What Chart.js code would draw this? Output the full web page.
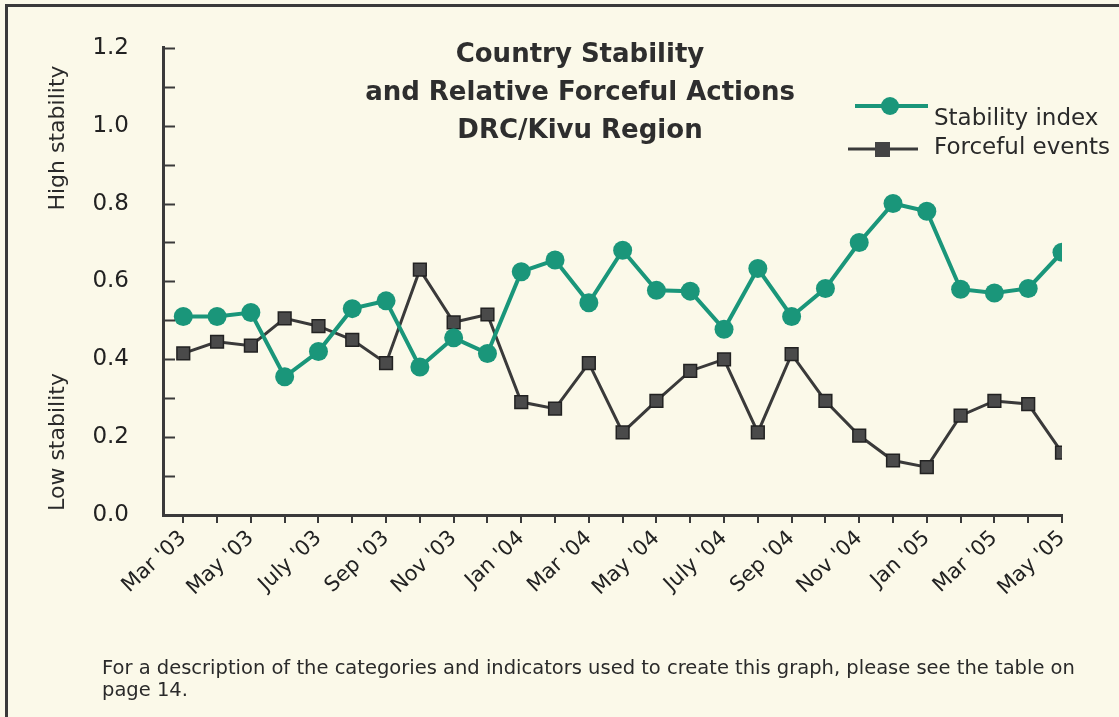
<!DOCTYPE html>
<html>
<head>
<meta charset="utf-8">
<script src="https://cdn.jsdelivr.net/npm/chart.js@4"></script>
<style>
  html, body { margin: 0; padding: 0; background: #fbf9e9; }
  #wrap { position: relative; width: 1119px; height: 717px; overflow: hidden; }
  #frame { position: absolute; left: 5px; top: 4px; width: 1200px; height: 800px;
           border-left: 3px solid #3a3a3a; border-top: 3px solid #3a3a3a; }
  #note { position: absolute; left: 102px; top: 657px; font: 19.5px "DejaVu Sans", sans-serif;
          color: #2a2a2a; line-height: 22px; white-space: nowrap; }
  canvas { position: absolute; left: 0; top: 0; }
</style>
</head>
<body>
<div id="wrap">
  <div id="frame"></div>
  <canvas id="chart" width="1119" height="717"></canvas>
  <div id="note">For a description of the categories and indicators used to create this graph, please see the table on<br>page 14.</div>
</div>
<script>
const months = ["Mar '03", "Apr '03", "May '03", "June '03", "July '03", "Aug '03", "Sep '03", "Oct '03", "Nov '03", "Dec '03",
  "Jan '04", "Feb '04", "Mar '04", "Apr '04", "May '04", "June '04", "July '04", "Aug '04", "Sep '04", "Oct '04", "Nov '04", "Dec '04",
  "Jan '05", "Feb '05", "Mar '05", "Apr '05", "May '05"];

const stabilityIndex = [0.51, 0.51, 0.52, 0.355, 0.42, 0.53, 0.55, 0.38, 0.455, 0.415,
  0.625, 0.655, 0.545, 0.68, 0.577, 0.575, 0.477, 0.633, 0.51, 0.582, 0.70, 0.80,
  0.78, 0.58, 0.57, 0.582, 0.675];

const forcefulEvents = [0.415, 0.445, 0.435, 0.505, 0.485, 0.45, 0.39, 0.63, 0.495, 0.515,
  0.29, 0.273, 0.39, 0.212, 0.293, 0.37, 0.40, 0.212, 0.413, 0.293, 0.204, 0.14,
  0.123, 0.255, 0.293, 0.285, 0.16];

const titleLines = ['Country Stability', 'and Relative Forceful Actions', 'DRC/Kivu Region'];
const seriesNames = ['Stability index', 'Forceful events'];

const GREEN = '#1a967a';
const DARK = '#3a3a3a';
const FONT = '"DejaVu Sans", sans-serif';

// inward y ticks, title, legend and side labels
const decorations = {
  id: 'decorations',
  afterDraw(chart) {
    const ctx = chart.ctx;
    const y = chart.scales.y;
    const area = chart.chartArea;
    ctx.save();

    // tick marks pointing into the plot
    ctx.strokeStyle = DARK;
    ctx.lineWidth = 2;
    y.ticks.forEach(t => {
      const py = Math.round(y.getPixelForValue(t.value)) + 0.5;
      ctx.beginPath();
      ctx.moveTo(area.left, py);
      ctx.lineTo(area.left + 12, py);
      ctx.stroke();
    });

    // title
    ctx.fillStyle = '#2e2e2e';
    ctx.font = 'bold 26px ' + FONT;
    ctx.textAlign = 'center';
    ctx.textBaseline = 'middle';
    titleLines.forEach((line, i) => ctx.fillText(line, 580, 55 + i * 38));

    // side labels
    ctx.font = '22px ' + FONT;
    ctx.fillStyle = '#2a2a2a';
    [['High stability', 138], ['Low stability', 442]].forEach(([txt, cy]) => {
      ctx.save();
      ctx.translate(58, cy);
      ctx.rotate(-Math.PI / 2);
      ctx.fillText(txt, 0, 0);
      ctx.restore();
    });

    // legend
    ctx.textAlign = 'left';
    ctx.font = '23px ' + FONT;
    ctx.strokeStyle = GREEN;
    ctx.lineWidth = 4;
    ctx.beginPath();
    ctx.moveTo(855, 106);
    ctx.lineTo(928, 106);
    ctx.stroke();
    ctx.fillStyle = GREEN;
    ctx.beginPath();
    ctx.arc(890, 106, 9, 0, Math.PI * 2);
    ctx.fill();
    ctx.fillStyle = '#2a2a2a';
    ctx.fillText(seriesNames[0], 934, 119);

    ctx.strokeStyle = DARK;
    ctx.lineWidth = 3;
    ctx.beginPath();
    ctx.moveTo(848, 149);
    ctx.lineTo(918, 149);
    ctx.stroke();
    ctx.fillStyle = '#444';
    ctx.fillRect(875, 142, 15, 15);
    ctx.fillStyle = '#2a2a2a';
    ctx.fillText(seriesNames[1], 934, 148);

    ctx.restore();
  }
};

new Chart(document.getElementById('chart'), {
  type: 'line',
  data: {
    datasets: [
      {
        label: seriesNames[0],
        data: stabilityIndex.map((v, i) => ({ x: i, y: v })),
        borderColor: GREEN,
        backgroundColor: GREEN,
        borderWidth: 4,
        pointRadius: 9.5,
        pointStyle: 'circle',
        pointBorderWidth: 0,
        tension: 0,
      },
      {
        label: seriesNames[1],
        data: forcefulEvents.map((v, i) => ({ x: i, y: v })),
        borderColor: DARK,
        backgroundColor: '#4a4a4a',
        borderWidth: 3,
        pointRadius: 9,
        pointStyle: 'rect',
        pointBorderColor: '#222',
        pointBorderWidth: 1.5,
        tension: 0,
      },
    ],
  },
  options: {
    responsive: false,
    animation: false,
    layout: { padding: { left: 0, top: 43, right: 57, bottom: 0 } },
    scales: {
      x: {
        type: 'linear',
        min: -0.6,
        max: 26,
        afterBuildTicks: (scale) => { scale.ticks = months.map((m, i) => ({ value: i })); },
        afterFit: (scale) => { scale.height = 202; },
        ticks: {
          autoSkip: false,
          minRotation: 43,
          maxRotation: 43,
          padding: 3,
          color: '#222',
          font: { family: FONT, size: 21 },
          callback: (value) => (value % 2 === 0 ? months[value] : ''),
        },
        grid: { drawOnChartArea: false, drawTicks: true, tickLength: 8, color: DARK, lineWidth: 2 },
        border: { display: true, color: DARK, width: 3 },
      },
      y: {
        min: 0,
        max: 1.2,
        afterFit: (scale) => { scale.width = 163; },
        ticks: {
          stepSize: 0.1,
          padding: 34,
          color: '#222',
          font: { family: FONT, size: 23 },
          callback: (value) => (Math.round(value * 10) % 2 === 0 ? value.toFixed(1) : ''),
        },
        grid: { drawOnChartArea: false, drawTicks: false },
        border: { display: true, color: DARK, width: 3 },
      },
    },
    plugins: {
      legend: { display: false },
      title: { display: false },
      tooltip: { enabled: false },
    },
  },
  plugins: [decorations],
});
</script>
</body>
</html>
